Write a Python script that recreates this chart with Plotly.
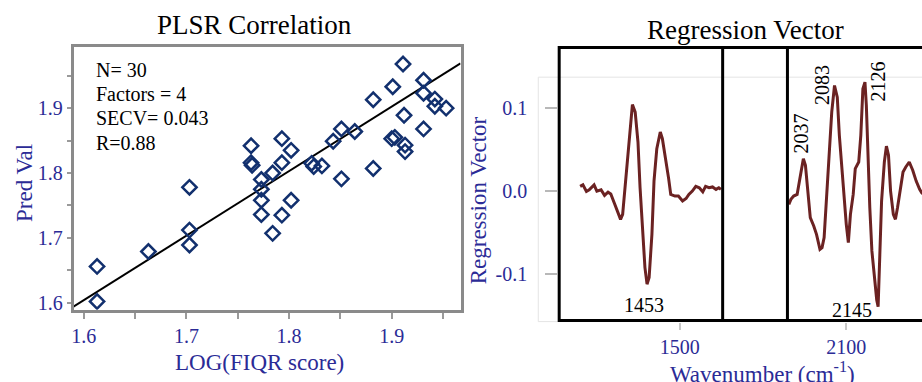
import plotly.graph_objects as go

W, H = 922, 382

# ---------------- data ----------------
obs_x = [1.613, 1.613, 1.663, 1.703, 1.703, 1.703, 1.763, 1.763, 1.764, 1.773, 1.773, 1.773, 1.773,
         1.784, 1.784, 1.793, 1.793, 1.793, 1.802, 1.802, 1.822, 1.824, 1.832, 1.843, 1.851, 1.851,
         1.864, 1.882, 1.882, 1.900, 1.901, 1.903, 1.911, 1.912, 1.913, 1.913, 1.931, 1.931, 1.931,
         1.942, 1.942, 1.953]
pred_y = [1.656, 1.602, 1.679, 1.778, 1.712, 1.689, 1.842, 1.816, 1.812, 1.790, 1.775, 1.758, 1.736,
          1.800, 1.707, 1.853, 1.816, 1.735, 1.835, 1.758, 1.815, 1.810, 1.811, 1.849, 1.868, 1.791,
          1.864, 1.913, 1.807, 1.853, 1.933, 1.855, 1.968, 1.889, 1.843, 1.833, 1.943, 1.923, 1.868,
          1.914, 1.903, 1.900]
fit_x = [1.590, 1.967]
fit_y = [1.594, 1.969]
stats_text = ["N= 30", "Factors = 4", "SECV= 0.043", "R=0.88"]

left_wn = [1357, 1361, 1366, 1370, 1377, 1381, 1387, 1392, 1397, 1401, 1406, 1411, 1415, 1418, 1421,
           1425, 1429, 1432, 1436, 1440, 1443, 1447, 1450, 1453, 1456, 1460, 1463, 1467, 1472, 1475,
           1480, 1484, 1487, 1493, 1498, 1504, 1509, 1513, 1518, 1523, 1528, 1533, 1537, 1542, 1547,
           1552, 1556, 1559]
left_rv = [0.0056, 0.0075, -0.0004, 0.0016, 0.0075, 0.0, 0.0016, -0.0052, -0.0012, -0.0036, -0.0143,
           -0.0262, -0.034, -0.028, 0.0, 0.043, 0.083, 0.104, 0.095, 0.059, 0.004, -0.048, -0.092,
           -0.112, -0.104, -0.052, 0.012, 0.051, 0.071, 0.063, 0.039, 0.015, -0.004, -0.006, -0.006,
           -0.012, -0.009, -0.004, 0.0, 0.0056, 0.004, -0.001, 0.0056, 0.004, 0.005, 0.002, 0.004, 0.002]

right_wn = [2017, 2020, 2024, 2029, 2033, 2038, 2041, 2044, 2048, 2053, 2057, 2062, 2065, 2068, 2072,
            2076, 2079, 2083, 2087, 2090, 2094, 2098, 2100, 2103, 2106, 2110, 2113, 2118, 2121, 2124,
            2127, 2129, 2131, 2134, 2137, 2140, 2144, 2146, 2149, 2151, 2155, 2158, 2161, 2164, 2168,
            2171, 2174, 2178, 2182, 2186, 2191, 2196, 2201, 2206, 2209, 2213]
right_rv = [-0.016, -0.010, -0.006, -0.004, 0.015, 0.039, 0.031, 0.0, -0.032, -0.042, -0.052, -0.070,
            -0.068, -0.056, 0.004, 0.055, 0.095, 0.127, 0.113, 0.067, 0.023, -0.012, -0.040, -0.062,
            -0.028, -0.004, 0.027, 0.035, 0.067, 0.123, 0.131, 0.103, 0.047, -0.020, -0.072, -0.100,
            -0.131, -0.139, -0.076, -0.012, 0.035, 0.054, 0.043, 0.0, -0.028, -0.034, -0.020, 0.004,
            0.023, 0.029, 0.035, 0.025, 0.012, 0.002, -0.002, -0.005]

peak_labels = ["1453", "2037", "2083", "2126", "2145"]
peak_wn = [1453, 2037, 2083, 2126, 2145]

# ---------------- styling helpers ----------------
FONT = "Liberation Serif, Times New Roman, serif"
BLUE = "#2b2b96"
NAVY = "#12306e"
MAROON = "#6b2222"
TICKGRAY = "#9a9a9a"


def px_x(p):
    return p / W


def px_y(p):
    return 1 - p / H


fig = go.Figure()

# Left panel: scatter + fit
fig.add_trace(go.Scatter(x=fit_x, y=fit_y, mode="lines", line=dict(color="black", width=2),
                         xaxis="x", yaxis="y", hoverinfo="skip"))
fig.add_trace(go.Scatter(x=obs_x, y=pred_y, mode="markers",
                         marker=dict(symbol="diamond-open", size=11, color=NAVY,
                                     line=dict(width=2.5, color=NAVY)),
                         xaxis="x", yaxis="y"))

# Right panel: regression vector, broken axis
fig.add_trace(go.Scatter(x=left_wn, y=left_rv, mode="lines", line=dict(color=MAROON, width=3),
                         xaxis="x2", yaxis="y2"))
fig.add_trace(go.Scatter(x=right_wn, y=right_rv, mode="lines", line=dict(color=MAROON, width=3),
                         xaxis="x3", yaxis="y2"))

tickfont = dict(family=FONT, size=20, color=BLUE)

fig.update_layout(
    width=W, height=H, autosize=False,
    margin=dict(l=0, r=0, t=0, b=0),
    paper_bgcolor="white", plot_bgcolor="rgba(0,0,0,0)",
    showlegend=False,
    xaxis=dict(domain=[px_x(71), px_x(459)], range=[1.5903, 1.967], anchor="y",
               tickvals=[1.6, 1.7, 1.8, 1.9], ticktext=["1.6", "1.7", "1.8", "1.9"],
               ticks="outside", ticklen=6, tickwidth=1.5, tickcolor=TICKGRAY,
               minor=dict(tickvals=[1.65, 1.75, 1.85, 1.95], ticks="outside", ticklen=6,
                          tickwidth=1.5, tickcolor=TICKGRAY),
               showline=True, mirror=True, linecolor="#8a8a8a", linewidth=3,
               showgrid=False, zeroline=False, tickfont=tickfont),
    yaxis=dict(domain=[px_y(313), px_y(48)], range=[1.5893, 1.9935], anchor="x",
               tickvals=[1.6, 1.7, 1.8, 1.9], ticktext=["1.6", "1.7", "1.8", "1.9"],
               ticks="outside", ticklen=4, tickwidth=1.5, tickcolor=TICKGRAY,
               minor=dict(tickvals=[1.65, 1.75, 1.85, 1.95], ticks="outside", ticklen=4,
                          tickwidth=1.5, tickcolor=TICKGRAY),
               showline=True, mirror=True, linecolor="#8a8a8a", linewidth=3,
               showgrid=False, zeroline=False, tickfont=tickfont),
    xaxis2=dict(domain=[px_x(557), px_x(722)], range=[1325.5, 1561.5], anchor="y2",
                tickvals=[1500], ticktext=["1500"], ticks="outside", ticklen=7, tickwidth=1.5,
                tickcolor="#c8c8c8", showline=False, showgrid=False, zeroline=False, tickfont=tickfont),
    xaxis3=dict(domain=[px_x(787), 1.0], range=[2015.0, 2209.4], anchor="y2",
                tickvals=[2100], ticktext=["2100"], ticks="outside", ticklen=7, tickwidth=1.5,
                tickcolor="#c8c8c8", showline=False, showgrid=False, zeroline=False, tickfont=tickfont),
    yaxis2=dict(domain=[px_y(325), px_y(78)], range=[-0.157, 0.137], anchor="x2",
                tickvals=[-0.1, 0.0, 0.1], ticktext=["-0.1", "0.0", "0.1"],
                ticks="outside", ticklen=12, tickwidth=1.5, tickcolor="#b8b8b8",
                ticklabelstandoff=14,
                showline=False, showgrid=False, zeroline=False, tickfont=tickfont),
)

# Frames / broken-axis lines
fig.add_shape(type="rect", xref="paper", yref="paper", x0=px_x(537), x1=px_x(935),
              y0=px_y(325), y1=px_y(78), line=dict(color="#e4e4e4", width=1), layer="below")
fig.add_shape(type="rect", xref="paper", yref="paper", x0=px_x(558), x1=px_x(940),
              y0=px_y(324), y1=px_y(48), line=dict(color="black", width=3))
for xp in (722, 787):
    fig.add_shape(type="line", xref="paper", yref="paper", x0=px_x(xp), x1=px_x(xp),
                  y0=px_y(324), y1=px_y(48), line=dict(color="black", width=3))

anns = []


def pa(text, xp, yp, size, color, angle=0, xanchor="center"):
    return dict(text=text, x=px_x(xp), y=px_y(yp), xref="paper", yref="paper",
                xanchor=xanchor, yanchor="middle", showarrow=False, textangle=angle,
                font=dict(family=FONT, size=size, color=color))


# Titles
anns.append(pa("PLSR Correlation", 252, 25, 27, "black"))
anns.append(pa("Regression Vector", 745, 30, 27, "black"))
# Axis titles
anns.append(pa("Pred Val", 21, 185, 23, BLUE, angle=-90))
anns.append(pa("LOG(FIQR score)", 257, 366, 23, BLUE))
anns.append(pa("Regression Vector", 477, 202, 23, BLUE, angle=-90))
anns.append(pa("Wavenumber (cm<sup>-1</sup>)", 762, 376, 23, BLUE))
# Stats text
for t, yp in zip(stats_text, [71, 95, 119, 145]):
    anns.append(pa(t, 91, yp, 20, "black", xanchor="left"))

# Peak labels (axis coordinates)
peak_pos = {
    "1453": dict(xref="x2", y=-0.137, xshift=-3, textangle=0),
    "2037": dict(xref="x3", y=0.069, xshift=-2, textangle=-90),
    "2083": dict(xref="x3", y=0.127, xshift=-12, textangle=-90),
    "2126": dict(xref="x3", y=0.132, xshift=14, textangle=-90),
    "2145": dict(xref="x3", y=-0.143, xshift=-25, textangle=0),
}
for lab, wn in zip(peak_labels, peak_wn):
    p = peak_pos[lab]
    anns.append(dict(text=lab, x=wn, y=p["y"], xref=p["xref"], yref="y2", xshift=p["xshift"],
                     xanchor="center", yanchor="middle",
                     textangle=p["textangle"], showarrow=False,
                     font=dict(family=FONT, size=20, color="black")))

fig.update_layout(annotations=anns)

fig.write_html("out.html", config={"displayModeBar": False},
               post_script="document.body.style.margin='0px';document.body.style.padding='0px';")
